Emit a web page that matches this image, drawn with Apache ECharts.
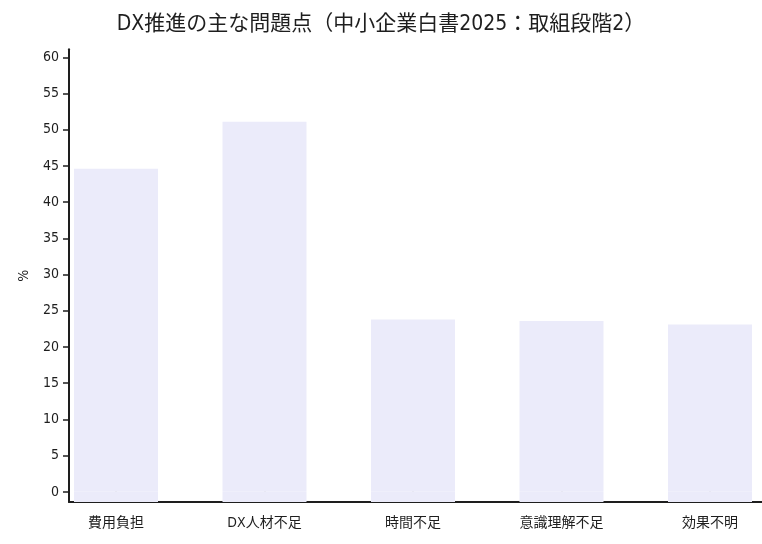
<!DOCTYPE html>
<html>
<head>
<meta charset="utf-8">
<script src="https://cdn.jsdelivr.net/npm/echarts@6/dist/echarts.min.js"></script>
<style>
html,body{margin:0;padding:0;background:#fff;}
#chart{width:762px;height:544px;}
</style>
</head>
<body>
<div id="chart"></div>
<script>
const titleText = 'DX推進の主な問題点（中小企業白書2025：取組段階2）';
const categories = ['費用負担', 'DX人材不足', '時間不足', '意識理解不足', '効果不明'];
const values = [44.6, 51.1, 23.8, 23.6, 23.1];
const yTicks = [0, 5, 10, 15, 20, 25, 30, 35, 40, 45, 50, 55, 60];
const yName = '%';

const Y_MIN = -1.4;
const Y_MAX = 61.1;
const FONT = "'DejaVu Sans Condensed', 'Noto Sans CJK JP', sans-serif";
const INK = '#1e1e1e';
const BAR = '#ebebfa';

const chart = echarts.init(document.getElementById('chart'), null, {renderer: 'canvas'});
chart.setOption({
  animation: false,
  backgroundColor: '#ffffff',
  textStyle: {fontFamily: FONT},
  title: {
    text: titleText,
    left: 'center',
    top: 9,
    textStyle: {fontFamily: FONT, fontSize: 21, fontWeight: 'normal', color: INK}
  },
  grid: [
    {left: 41.75, width: 742.5, top: 49.3, bottom: 42, containLabel: false, outerBoundsMode: 'none'},
    {left: 69, right: 0, top: 49.3, bottom: 42, containLabel: false, outerBoundsMode: 'none'}
  ],
  xAxis: [
    {
      type: 'category', gridIndex: 0, data: categories,
      axisLine: {show: false},
      axisTick: {show: true, alignWithLabel: true, length: 5, lineStyle: {color: INK, width: 1.5}},
      axisLabel: {fontFamily: FONT, fontSize: 14, color: INK, margin: 14},
      splitLine: {show: false}
    },
    {
      type: 'value', gridIndex: 1, min: 0, max: 1,
      axisLine: {show: true, onZero: false, lineStyle: {color: INK, width: 2}},
      axisTick: {show: false}, axisLabel: {show: false}, splitLine: {show: false}
    }
  ],
  yAxis: [
    {type: 'value', gridIndex: 0, min: Y_MIN, max: Y_MAX, show: false},
    {
      type: 'value', gridIndex: 1, min: Y_MIN, max: Y_MAX,
      name: yName, nameLocation: 'middle', nameGap: 38, nameRotate: 90,
      nameTextStyle: {fontFamily: FONT, fontSize: 14, color: INK},
      axisLine: {show: true, onZero: false, lineStyle: {color: INK, width: 2}},
      axisTick: {show: true, length: 6, customValues: yTicks, lineStyle: {color: INK, width: 1.5}},
      axisLabel: {fontFamily: FONT, fontSize: 14, color: INK, margin: 10, customValues: yTicks},
      splitLine: {show: false}
    }
  ],
  series: [
    {
      type: 'bar', xAxisIndex: 0, yAxisIndex: 0, stack: 'b', silent: true,
      barWidth: 84,
      itemStyle: {color: BAR},
      data: categories.map(() => Y_MIN)
    },
    {
      type: 'bar', xAxisIndex: 0, yAxisIndex: 0, stack: 'b',
      barWidth: 84,
      itemStyle: {color: BAR},
      data: values
    }
  ]
});
</script>
</body>
</html>
